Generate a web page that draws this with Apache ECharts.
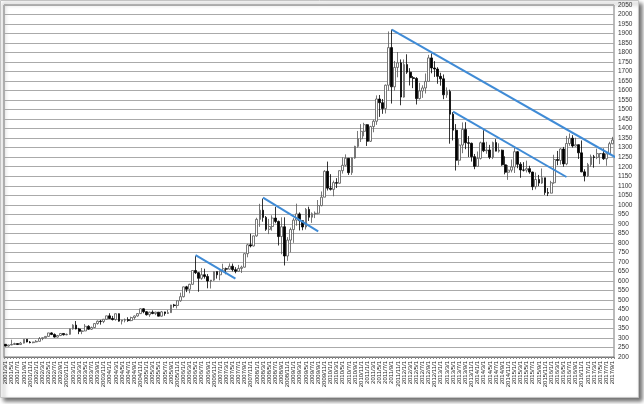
<!DOCTYPE html>
<html>
<head>
<meta charset="utf-8">
<script src="https://cdn.jsdelivr.net/npm/echarts@6/dist/echarts.min.js"></script>
<style>
html,body{margin:0;padding:0;background:#fff;}
#c{width:644px;height:404px;}
</style>
</head>
<body>
<div id="c"></div>
<script>
// Monthly candles [open, close, low, high], 2001/3 .. 2017/9
const y2001 = [[266.7,257.7,255.5,268],[257.7,263.2,255,264],[263.2,266.0,262,291],[266,270.6,263,275],[270.6,265.5,263,271],[265.5,273,264,279],[273,293.1,271,293.5],[293.1,278.8,277,293],[278.8,275.5,272,284],[275.5,279,272,280]];
const y2002 = [[279,282.3,277,289],[282.3,296.9,281,305],[296.9,301.4,288,302],[301.4,308.2,298,309],[308.2,326.6,307,327],[326.6,318.5,315,330],[318.5,304.7,302,324],[304.7,312.8,302,316],[312.8,323.7,310,326],[323.7,316.9,313,325],[316.9,319.1,314,323],[319.1,347.6,317,349]];
const y2003 = [[347.6,367.5,344,372],[367.5,347.5,345,389],[347.5,334.9,320,353],[334.9,336.8,320,341],[336.8,361.4,336,373],[361.4,346,343,367],[346,354.8,342,360],[354.8,375.6,352,377],[375.6,388,370,392],[388,386.3,370,395],[386.3,398.4,378,400],[398.4,416.3,396,417]];
const y2004 = [[416.3,402.2,400,430],[402.2,396.9,392,416],[396.9,427.5,391,428],[427.5,388.5,386,429],[388.5,393.3,371,395],[393.3,395.8,382,402],[395.8,391.4,385,409],[391.4,407.3,388,412],[407.3,415.7,397,418],[415.7,428,412,430],[428,453.4,427,456],[453.4,438,430,456]];
const y2005 = [[438,422.2,418,441],[422.2,435.5,411,438],[435.5,428.5,425,445],[428.5,435.7,420,438],[435.7,414.5,414,436],[414.5,437.1,412,442],[437.1,429,417,438],[429,433.3,426,447],[433.3,473.3,432,474],[473.3,470.8,460,479],[470.8,495.7,455,497],[495.7,517,490,538]];
const y2006 = [[517,568.8,513,570],[568.8,556,541,574],[556,582,535,585],[582,654.5,580,655],[654.5,643,636,730],[643,613.5,543,646],[613.5,632.5,606,668],[632.5,623.5,612,664],[623.5,599.3,561,636],[599.3,603.8,560,605],[603.8,648.8,600,650],[648.8,632,612,650]];
const y2007 = [[632,650.5,603,655],[650.5,664.2,648,690],[664.2,661.8,635,670],[661.8,677,660,692],[677,659.1,650,691],[659.1,650.5,640,672],[650.5,665.5,648,684],[665.5,672,642,680],[672,743,670,745],[743,789.5,724,795],[789.5,783.5,776,848],[783.5,836.5,781,838]];
const y2008 = [[836.5,923.3,832,932],[923.3,971.5,884,1005],[971.5,933.5,911,1033],[933.5,871,863,941],[871,885.8,846,926],[885.8,930.3,864,945],[930.3,912.5,903,989],[912.5,833,786,917],[833,884.5,740,934],[884.5,730.8,681,934],[730.8,814.5,705,830],[814.5,869.8,750,880]];
const y2009 = [[869.8,919.5,800,930],[919.5,952,890,1006],[952,916.5,865,960],[916.5,883.3,866,918],[883.3,975.5,870,983],[975.5,934.5,915,990],[934.5,953,905,960],[953,955.5,930,965],[955.5,995.8,950,1025],[995.8,1040,992,1070],[1040,1175.8,1040,1182],[1175.8,1087.5,1075,1227]];
const y2010 = [[1087.5,1081,1075,1161],[1081,1116.5,1045,1127],[1116.5,1113.3,1088,1140],[1113.3,1179.3,1111,1180],[1179.3,1207.5,1164,1249],[1207.5,1244.5,1202,1265],[1244.5,1169,1157,1245],[1169,1246,1157,1248],[1246,1307,1242,1310],[1307,1346.8,1300,1388],[1346.8,1386,1330,1424],[1386,1421,1360,1431]];
const y2011 = [[1421,1333.8,1309,1424],[1333.8,1411,1330,1415],[1411,1439,1381,1447],[1439,1556,1420,1575],[1556,1536.5,1462,1577],[1536.5,1505.5,1478,1556],[1505.5,1628.5,1480,1632],[1628.5,1826,1600,1911],[1826,1620,1532,1921],[1620,1722,1600,1756],[1722,1746,1670,1803],[1746,1566,1523,1764]];
const y2012 = [[1566,1737,1563,1764],[1737,1697,1688,1791],[1697,1668,1627,1718],[1668,1664,1613,1677],[1664,1558,1527,1671],[1558,1598.5,1553,1641],[1598.5,1614,1562,1628],[1614,1648.5,1585,1690],[1648.5,1772,1647,1788],[1772,1719,1691,1796],[1719,1713.5,1672,1755],[1713.5,1675,1636,1723]];
const y2013 = [[1675,1662,1626,1694],[1662,1578,1555,1685],[1578,1596,1562,1617],[1596,1476,1321,1605],[1476,1392,1338,1487],[1392,1234,1180,1424],[1234,1314,1208,1348],[1314,1396,1271,1433],[1396,1326,1292,1434],[1326,1323,1251,1361],[1323,1253,1227,1327],[1253,1202,1187,1267]];
const y2014 = [[1202,1244,1202,1280],[1244,1326,1238,1332],[1326,1284,1277,1392],[1284,1288,1268,1331],[1288,1250,1240,1315],[1250,1327,1240,1332],[1327,1282,1281,1345],[1282,1287,1274,1323],[1287,1210,1205,1290],[1210,1171,1160,1255],[1171,1182,1131,1209],[1182,1199,1170,1238]];
const y2015 = [[1199,1279,1167,1308],[1279,1213,1192,1283],[1213,1183,1142,1224],[1183,1182,1175,1224],[1182,1190,1170,1232],[1190,1172,1163,1205],[1172,1095,1077,1174],[1095,1133,1081,1170],[1133,1114,1098,1157],[1114,1142,1110,1191],[1142,1064,1052,1142],[1064,1061,1046,1088]];
const y2016 = [[1061,1116,1062,1126],[1116,1238,1110,1263],[1238,1233,1208,1283],[1233,1293,1211,1297],[1293,1215,1200,1304],[1215,1322,1208,1362],[1322,1350,1310,1375],[1350,1309,1301,1366],[1309,1316,1306,1352],[1316,1273,1241,1317],[1273,1173,1171,1338],[1173,1152,1123,1187]];
const y2017 = [[1152,1211,1146,1220],[1211,1252,1200,1264],[1252,1249,1195,1262],[1249,1269,1240,1295],[1269,1269,1214,1270],[1269,1242,1236,1296],[1242,1268,1205,1270],[1268,1321,1267,1331],[1321,1340,1318,1357]];

const firstYear = 2001, firstMonth = 3;
const yTicks = {min: 200, max: 2050, step: 50};

// Trend lines: [month, price] endpoints
const trend1 = [['2006/5', 735], ['2007/6', 612]];
const trend2 = [['2008/3', 1038], ['2009/9', 860]];
const trend3 = [['2011/9', 1921], ['2018/1', 1222]];
const trend4 = [['2013/5', 1490], ['2016/6', 1146]];

const candles = [].concat(y2001,y2002,y2003,y2004,y2005,y2006,y2007,y2008,y2009,y2010,y2011,y2012,y2013,y2014,y2015,y2016,y2017);
const categories = candles.map((d, i) => {
  const t = (firstMonth - 1) + i;
  return (firstYear + Math.floor(t / 12)) + '/' + (t % 12 + 1) + '/1';
});
function monthIndex(s) {
  const p = s.split('/');
  return (parseInt(p[0]) - firstYear) * 12 + (parseInt(p[1]) - firstMonth);
}
const N = categories.length;

const trendSeries = [trend1, trend2, trend3, trend4].map(t => ({
  type: 'line',
  xAxisIndex: 1,
  data: t.map(p => [monthIndex(p[0]), p[1]]),
  symbol: 'none',
  clip: false,
  silent: true,
  z: 5,
  lineStyle: {color: '#3f8bd6', width: 2},
  animation: false
}));

const chart = echarts.init(document.getElementById('c'));
chart.setOption({
  animation: false,
  backgroundColor: 'transparent',
  graphic: [{
    type: 'rect',
    z: -10,
    shape: {x: 0.5, y: 0.5, width: 638, height: 397},
    style: {fill: '#fff', stroke: '#c4c4c4', lineWidth: 1,
      shadowColor: 'rgba(0,0,0,0.55)', shadowBlur: 4, shadowOffsetX: 3, shadowOffsetY: 3}
  }],
  grid: {left: 4, right: 30, top: 5, bottom: 47, show: true, borderColor: '#777', borderWidth: 1},
  xAxis: [{
    type: 'category',
    data: categories,
    boundaryGap: true,
    axisLine: {show: true, lineStyle: {color: '#777'}},
    axisTick: {show: true, interval: 0, length: 2, lineStyle: {color: '#888'}},
    axisLabel: {interval: 1, rotate: 90, fontSize: 6, color: '#222', margin: 4,
      fontFamily: 'Liberation Sans, Arial, sans-serif'},
    splitLine: {show: false}
  }, {
    type: 'value',
    min: -0.5,
    max: N - 0.5,
    show: false
  }],
  yAxis: {
    type: 'value',
    position: 'right',
    min: yTicks.min,
    max: yTicks.max,
    interval: yTicks.step,
    axisLine: {show: false},
    axisTick: {show: false},
    axisLabel: {fontSize: 6.5, color: '#333', margin: 4, formatter: v => String(v),
      fontFamily: 'Liberation Sans, Arial, sans-serif'},
    splitLine: {show: true, lineStyle: {color: '#aaa', width: 1}}
  },
  series: [{
    type: 'candlestick',
    data: candles,
    barWidth: '75%',
    itemStyle: {color: '#ffffff', color0: '#000000', borderColor: '#555', borderColor0: '#000', borderWidth: 0.8}
  }].concat(trendSeries)
});
</script>
</body>
</html>
